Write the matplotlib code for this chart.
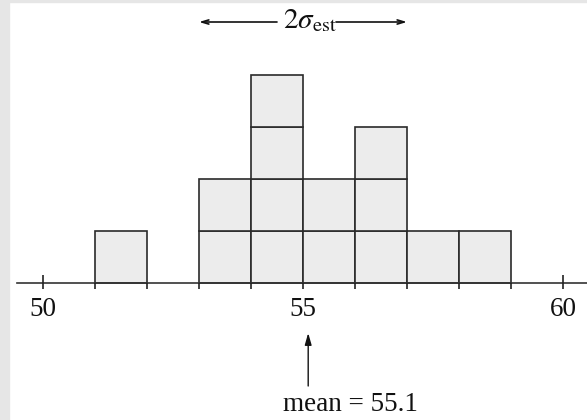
import numpy as np
import matplotlib
matplotlib.use("Agg")
import matplotlib.pyplot as plt
from matplotlib.patches import Rectangle

# data
bin_left = np.array([51, 53, 54, 55, 56, 57, 58])
counts = np.array([1, 2, 4, 2, 3, 1, 1])
tick_values = [50, 55, 60]
tick_labels = ["50", "55", "60"]
mean_value = 55.1
sigma_lo, sigma_hi = 53.0, 57.0

plt.rcParams['font.family'] = ['Liberation Serif', 'DejaVu Serif']
plt.rcParams['mathtext.fontset'] = 'stix'

W, H = 587, 420
fig = plt.figure(figsize=(W / 100, H / 100), dpi=100)
fig.patches.append(Rectangle((0, 0), 9 / W, 1, transform=fig.transFigure,
                             color='#e6e6e6', zorder=0))
fig.patches.append(Rectangle((0, 1 - 1.5 / H), 1, 1.5 / H, transform=fig.transFigure,
                             color='#e6e6e6', zorder=0))
ax = fig.add_axes([9 / W, 0, 1 - 9 / W, 1 - 1.5 / H])
ax.patch.set_alpha(0)

u = 52.0
x0 = 50 - (43 - 9) / u
x1 = 50 + (587 - 43) / u
ax.set_xlim(x0, x1)
ax.set_ylim((283 - 420) / u, (283 - 1.5) / u)

edge = '#2a2a2a'
for level in range(counts.max()):
    mask = counts > level
    ax.bar(bin_left[mask], np.ones(mask.sum()), width=1.0, bottom=level,
           align='edge', color='#ececec', edgecolor=edge, linewidth=1.2, zorder=2)

# axis line
ax.plot([49.5, x1], [0, 0], color='#333333', lw=1.2, zorder=3)
ints = np.arange(50, 61)
ax.vlines(ints, -6 / u, 0, color='#222222', lw=1.2, zorder=3)
ax.vlines([50, 60], 0, 8 / u, color='#222222', lw=1.2, zorder=3)
for v, lab in zip(tick_values, tick_labels):
    ax.text(v, (283 - 316) / u, lab, ha='center', va='baseline', fontsize=19.5,
            color='#111111')

# sigma arrow
ysig = (283 - 22) / u
tx_l = 50 + (277 - 43) / u
tx_r = 50 + (336 - 43) / u
ap = dict(arrowstyle='->,head_length=0.5,head_width=0.15', color='#111111', lw=1.2,
          shrinkA=0, shrinkB=0)
ax.annotate('', xy=(sigma_lo, ysig), xytext=(tx_l, ysig), arrowprops=ap)
ax.annotate('', xy=(sigma_hi, ysig), xytext=(tx_r, ysig), arrowprops=ap)
ax.text(50 + (283 - 43) / u, (283 - 28) / u, r'$2\sigma_{\mathrm{est}}$', ha='left',
        va='baseline', fontsize=21, color='#111111')

# mean arrow
ax.annotate('', xy=(mean_value, (283 - 333) / u), xytext=(mean_value, (283 - 386) / u),
            arrowprops=dict(arrowstyle='-|>,head_length=0.7,head_width=0.2',
                            color='#111111', lw=1.0, shrinkA=0, shrinkB=0))
ax.text(50 + (283 - 43) / u, (283 - 411) / u, 'mean = %.1f' % mean_value, ha='left',
        va='baseline', fontsize=19.5, color='#111111')

ax.axis('off')
fig.savefig('out.png', dpi=100)
